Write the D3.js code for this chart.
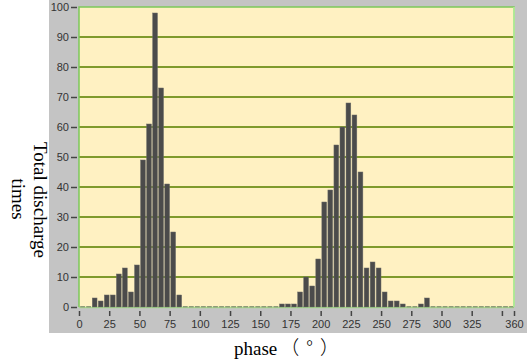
<!DOCTYPE html>
<html>
<head>
<meta charset="utf-8">
<script src="https://cdn.jsdelivr.net/npm/d3@7"></script>
<style>
  body { margin: 0; background: #fff; }
</style>
</head>
<body>
<div id="chart"></div>
<script>
// phase bins, 5 degrees each
var binSize = 5;
var phases = d3.range(0, 360, binSize);
var counts = [
  0, 0, 3, 2, 4, 4, 11, 13, 5, 14, 49, 61, 98, 73, 41, 25, 4,
  0, 0, 0, 0, 0, 0, 0, 0, 0, 0, 0, 0, 0, 0, 0, 0,
  1, 1, 1, 5, 10, 7, 16, 35, 39, 54, 60, 68, 64, 45, 13, 15, 13, 5, 2, 2, 1, 0, 0, 1, 3,
  0, 0, 0, 0, 0, 0, 0, 0, 0, 0, 0, 0, 0, 0
];
var yTicks = [0, 10, 20, 30, 40, 50, 60, 70, 80, 90, 100];
var xTicks = [0, 25, 50, 75, 100, 125, 150, 175, 200, 225, 250, 275, 300, 325, 350, 360];
var xLabels = [0, 25, 50, 75, 100, 125, 150, 175, 200, 225, 250, 275, 300, 325, 360];

var data = phases.map(function (p, i) { return { phase: p, count: counts[i] }; });

var width = 527, height = 362;
var svg = d3.select("#chart").append("svg")
  .attr("width", width)
  .attr("height", height);

var x = d3.scaleLinear().domain([0, 360]).range([79, 514]);
var y = d3.scaleLinear().domain([0, 100]).range([307, 7]);

// grey panel
svg.append("rect")
  .attr("x", 49).attr("y", 0)
  .attr("width", width - 49).attr("height", 333)
  .attr("fill", "#c4c4c4");

// plot background
svg.append("rect")
  .attr("x", x(0)).attr("y", y(100))
  .attr("width", x(360) - x(0)).attr("height", y(0) - y(100))
  .attr("fill", "#fff1c2");

// grid lines
svg.append("g").selectAll("line")
  .data(yTicks.filter(function (d) { return d > 0 && d < 100; }))
  .enter().append("line")
  .attr("x1", x(0)).attr("x2", x(360))
  .attr("y1", function (d) { return y(d); })
  .attr("y2", function (d) { return y(d); })
  .attr("stroke", "#7f9a2c")
  .attr("stroke-width", 2);

// zero baseline
svg.append("line")
  .attr("x1", x(0)).attr("x2", x(360))
  .attr("y1", y(0) + 0.5).attr("y2", y(0) + 0.5)
  .attr("stroke", "#a6dc8c")
  .attr("stroke-width", 1.5);

// bars
svg.append("g").selectAll("rect")
  .data(data)
  .enter().append("rect")
  .attr("x", function (d) { return x(d.phase) + 1.2; })
  .attr("width", function (d) { return x(d.phase + binSize) - x(d.phase) - 1.3; })
  .attr("y", function (d) { return d.count > 0 ? y(d.count) : y(0) - 1; })
  .attr("height", function (d) { return d.count > 0 ? y(0) - y(d.count) : 1.5; })
  .attr("fill", function (d) { return d.count > 0 ? "#4b4b4b" : "#8e9c78"; })
  .attr("stroke", function (d) { return d.count > 0 ? "#6a6a66" : "none"; })
  .attr("stroke-width", 0.5);

// plot border (top and left, light green)
svg.append("path")
  .attr("d", "M" + x(0) + "," + y(0) + "V" + y(100) + "H" + x(360) + "V" + y(0))
  .attr("fill", "none")
  .attr("stroke", "#7cc85a")
  .attr("stroke-width", 1.5);
svg.append("line")
  .attr("x1", x(360)).attr("x2", x(360))
  .attr("y1", y(100)).attr("y2", y(0))
  .attr("stroke", "#b8f0a0").attr("stroke-width", 1.5);

// y axis
var yAxis = d3.axisLeft(y).tickValues(yTicks).tickSize(6).tickPadding(2);
var gy = svg.append("g")
  .attr("transform", "translate(" + (x(0) - 2) + ",0)")
  .call(yAxis);
gy.select(".domain").remove();
gy.selectAll(".tick line").attr("stroke", "#444").attr("stroke-width", 1.5);
gy.selectAll(".tick text")
  .attr("fill", "#333")
  .style("font-family", "'Liberation Sans', Arial, sans-serif")
  .style("font-size", "11px");

// x axis
var xAxis = d3.axisBottom(x).tickValues(xTicks).tickSize(5).tickPadding(4)
  .tickFormat(function (d) { return xLabels.indexOf(d) >= 0 ? d : ""; });
var gx = svg.append("g")
  .attr("transform", "translate(0," + (y(0) + 4) + ")")
  .call(xAxis);
gx.select(".domain").remove();
gx.selectAll(".tick line").attr("stroke", "#444").attr("stroke-width", 1.5);
gx.selectAll(".tick text")
  .attr("fill", "#333")
  .style("font-family", "'Liberation Sans', Arial, sans-serif")
  .style("font-size", "11px");

// axis titles
svg.append("text")
  .attr("transform", "translate(34,200) rotate(90)")
  .attr("text-anchor", "middle")
  .style("font-family", "'Liberation Serif', 'Times New Roman', serif")
  .style("font-size", "19px")
  .attr("fill", "#000")
  .text("Total discharge");
svg.append("text")
  .attr("transform", "translate(12,199) rotate(90)")
  .attr("text-anchor", "middle")
  .style("font-family", "'Liberation Serif', 'Times New Roman', serif")
  .style("font-size", "19px")
  .attr("fill", "#000")
  .text("times");

var xt = svg.append("text")
  .attr("x", 234).attr("y", 355)
  .style("font-family", "'Liberation Serif', 'Times New Roman', serif")
  .style("font-size", "19px")
  .attr("fill", "#000");
xt.append("tspan").text("phase");
xt.append("tspan")
  .attr("dx", 3)
  .style("font-family", "'Noto Sans CJK SC', serif")
  .style("font-weight", "300")
  .style("letter-spacing", "7px")
  .text("（°）");
</script>
</body>
</html>
